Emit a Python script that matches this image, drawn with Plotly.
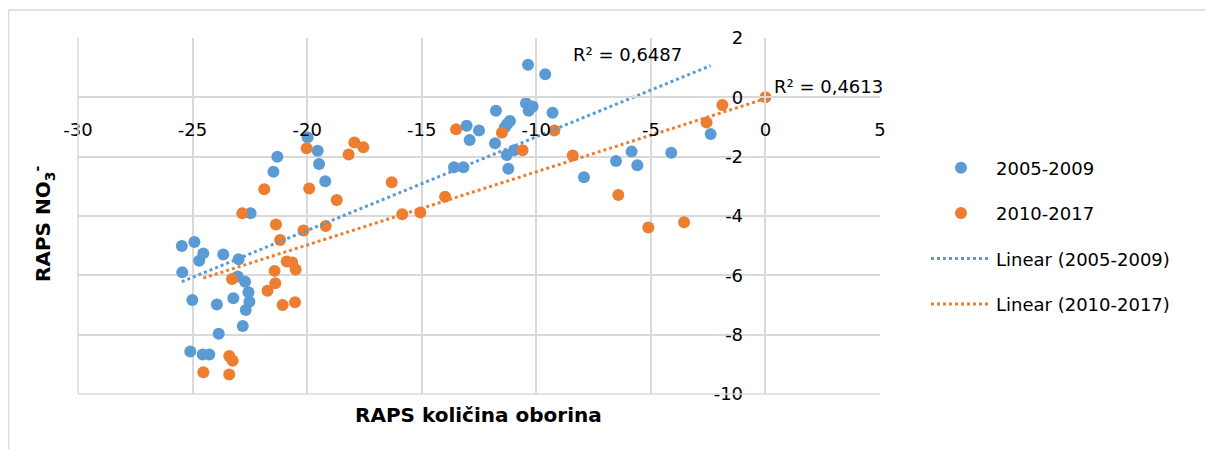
import numpy as np
import plotly.graph_objects as go

# ---- data ----
x_2005 = [-25.47, -24.92, -24.53, -24.71, -23.66, -22.99, -25.45, -23.03, -22.71, -22.56,
          -22.52, -22.68, -25.01, -23.94, -23.22, -22.81, -23.86, -25.10, -24.56, -24.27,
          -19.98, -19.54, -19.48, -19.21, -21.30, -21.47, -22.47, -10.36, -9.61, -10.45,
          -10.16, -10.33, -9.29, -11.76, -11.15, -11.27, -11.37, -13.04, -12.50, -12.91,
          -11.80, -11.29, -10.97, -11.22, -13.59, -13.18, -7.92, -2.39, -4.11, -5.84,
          -6.52, -5.59]
y_2005 = [-5.01, -4.88, -5.26, -5.51, -5.30, -5.46, -5.90, -6.04, -6.22, -6.57,
          -6.89, -7.17, -6.83, -6.98, -6.77, -7.71, -7.97, -8.57, -8.67, -8.67,
          -1.35, -1.80, -2.25, -2.83, -2.00, -2.51, -3.91, 1.10, 0.78, -0.20,
          -0.31, -0.45, -0.52, -0.45, -0.80, -0.90, -1.01, -0.96, -1.12, -1.44,
          -1.55, -1.94, -1.78, -2.41, -2.36, -2.36, -2.69, -1.24, -1.87, -1.83,
          -2.15, -2.29]

x_2010 = [-21.36, -21.18, -20.16, -19.19, -20.89, -20.65, -20.50, -21.42, -23.28, -21.39,
          -21.73, -21.07, -20.53, -23.40, -23.25, -24.53, -23.40, -20.02, -17.94, -17.55,
          -18.19, -21.87, -19.91, -18.71, -16.31, -15.85, -15.06, -13.98, -22.83, -13.50,
          -11.50, -9.21, -10.60, -8.41, -1.88, -2.57, -6.42, -5.11, -3.55, 0.0]
y_2010 = [-4.29, -4.81, -4.49, -4.34, -5.53, -5.57, -5.80, -5.85, -6.12, -6.27,
          -6.52, -7.00, -6.91, -8.72, -8.88, -9.27, -9.34, -1.72, -1.52, -1.68,
          -1.93, -3.10, -3.07, -3.46, -2.86, -3.94, -3.88, -3.35, -3.91, -1.08,
          -1.19, -1.12, -1.78, -1.96, -0.26, -0.85, -3.29, -4.39, -4.21, 0.0]

x_tick_vals = [-30, -25, -20, -15, -10, -5, 0, 5]
x_tick_text = ["-30", "-25", "-20", "-15", "-10", "-5", "0", "5"]
y_tick_vals = [-10, -8, -6, -4, -2, 0, 2]
y_tick_text = ["-10", "-8", "-6", "-4", "-2", "0", "2"]

series_names = ["2005-2009", "2010-2017"]
r2_labels = ["R² = 0,6487", "R² = 0,4613"]
x_title = "RAPS količina oborina"
y_title = "RAPS NO<sub>3</sub><sup>-</sup>"

BLUE = "#5B9BD5"
ORANGE = "#ED7D31"
GRID = "#D9D9D9"
FONT = "DejaVu Sans"

fig = go.Figure()

def trend(xs, ys):
    k, b = np.polyfit(xs, ys, 1)
    xx = np.array([min(xs), max(xs)])
    return xx, k * xx + b

for i, (xs, ys, col) in enumerate([(x_2005, y_2005, BLUE), (x_2010, y_2010, ORANGE)]):
    fig.add_trace(go.Scatter(x=xs, y=ys, mode="markers", name=series_names[i],
                             marker=dict(color=col, size=12, line=dict(width=0)),
                             legendgroup=f"g{i}", legendrank=i + 1))

for i, (xs, ys, col) in enumerate([(x_2005, y_2005, BLUE), (x_2010, y_2010, ORANGE)]):
    tx, ty = trend(xs, ys)
    fig.add_trace(go.Scatter(x=tx, y=ty, mode="lines", name=f"Linear ({series_names[i]})",
                             line=dict(color=col, width=3, dash="dot"),
                             legendgroup=f"t{i}", legendrank=i + 3))

# page has an 8px body margin: figure is drawn at (8, 8)
OFF = 8
W, H = 1213 - 2 * OFF, 457 - 2 * OFF
L, R, T, B = 78, 880, 38, 394          # plot area in page pixels
pw, ph = R - L, B - T

def px(xp):
    return (xp - L) / pw

def py(yp):
    return 1 - (yp - T) / ph

fig.update_layout(
    width=W, height=H,
    margin=dict(l=L - OFF, r=W - (R - OFF), t=T - OFF, b=H - (B - OFF), autoexpand=False),
    paper_bgcolor="white", plot_bgcolor="white",
    font=dict(family=FONT, size=18, color="#000000"),
    showlegend=True,
    legend=dict(x=px(926), y=py(236), xanchor="left", yanchor="middle",
                traceorder="grouped", tracegroupgap=19,
                font=dict(family=FONT, size=18, color="#000000"),
                itemwidth=60, bgcolor="rgba(0,0,0,0)"),
    xaxis=dict(range=[-30, 5], tickmode="array", tickvals=x_tick_vals, ticktext=x_tick_text,
               showgrid=True, gridcolor=GRID, gridwidth=1.5,
               zeroline=False, showline=True, linecolor=GRID, linewidth=1.5,
               anchor="free", position=10 / 12, ticks="", ticklabelstandoff=16,
               automargin=False,
               tickfont=dict(family=FONT, size=18, color="#000000")),
    yaxis=dict(range=[-10, 2], tickmode="array", tickvals=y_tick_vals, ticktext=y_tick_text,
               showgrid=True, gridcolor=GRID, gridwidth=1.5,
               zeroline=False, showline=True, linecolor=GRID, linewidth=1.5,
               anchor="free", position=30 / 35, ticks="", ticklabelstandoff=18,
               automargin=False,
               tickfont=dict(family=FONT, size=18, color="#000000")),
)

# plot-area frame (left and bottom edges)
fig.add_shape(type="line", xref="paper", yref="paper", x0=0, x1=0, y0=0, y1=1,
              line=dict(color=GRID, width=1.5))
fig.add_shape(type="line", xref="paper", yref="paper", x0=0, x1=1, y0=0, y1=0,
              line=dict(color=GRID, width=1.5))
# outer chart frame
fig.add_shape(type="line", xref="paper", yref="paper", x0=px(8.5), x1=px(8.5), y0=py(460), y1=py(10),
              line=dict(color=GRID, width=1.5))
fig.add_shape(type="line", xref="paper", yref="paper", x0=px(8.5), x1=px(1215), y0=py(10), y1=py(10),
              line=dict(color=GRID, width=1.5))

# R² labels
fig.add_annotation(xref="paper", yref="paper", x=px(571), y=py(54), xanchor="left", yanchor="middle",
                   text=r2_labels[0], showarrow=False, font=dict(family=FONT, size=18, color="#000"))
fig.add_annotation(xref="paper", yref="paper", x=px(772), y=py(87), xanchor="left", yanchor="middle",
                   text=r2_labels[1], showarrow=False, font=dict(family=FONT, size=18, color="#000"))

# axis titles
fig.add_annotation(xref="paper", yref="paper", x=px(478), y=py(415), xanchor="center", yanchor="middle",
                   text=f"<b>{x_title}</b>", showarrow=False, font=dict(family=FONT, size=20, color="#000"))
fig.add_annotation(xref="paper", yref="paper", x=px(43), y=py(224), xanchor="center", yanchor="middle",
                   text=f"<b>{y_title}</b>", textangle=-90, showarrow=False,
                   font=dict(family=FONT, size=20, color="#000"))

fig.write_html("out.html")
